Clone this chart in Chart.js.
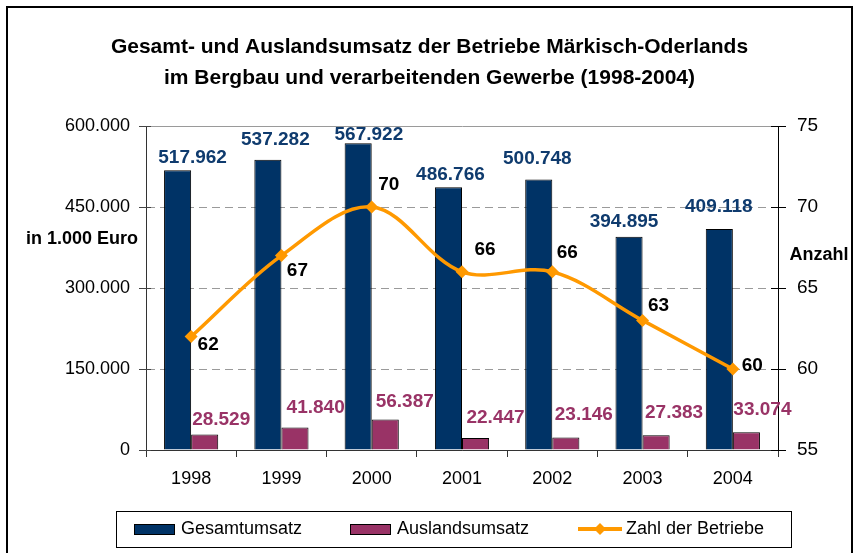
<!DOCTYPE html>
<html><head><meta charset="utf-8">
<script src="https://cdn.jsdelivr.net/npm/chart.js@4.4.0/dist/chart.umd.min.js"></script>
<style>
html,body{margin:0;padding:0;background:#fff;}
canvas{display:block;}
</style></head><body>
<canvas id="c" width="859" height="553"></canvas>
<script>
// ---- data ----
const years = ['1998','1999','2000','2001','2002','2003','2004'];
const gesamtumsatz = [517962, 537282, 567922, 486766, 500748, 394895, 409118];
const auslandsumsatz = [28529, 41840, 56387, 22447, 23146, 27383, 33074];
const zahlBetriebe = [62, 67, 70, 66, 66, 63, 60];
const leftTickValues = [0, 150000, 300000, 450000, 600000];
const rightTickValues = [55, 60, 65, 70, 75];
const titleLines = ['Gesamt- und Auslandsumsatz der Betriebe Märkisch-Oderlands', 'im Bergbau und verarbeitenden Gewerbe (1998-2004)'];
const seriesNames = ['Gesamtumsatz', 'Auslandsumsatz', 'Zahl der Betriebe'];
const leftAxisTitle = 'in 1.000 Euro';
const rightAxisTitle = 'Anzahl';

// ---- style ----
const FONT = "'Liberation Sans', Arial, sans-serif";
const NAVY = '#003366', MAROON = '#993366', ORANGE = '#FF9900';
const de = n => String(n).replace(/\B(?=(\d{3})+(?!\d))/g, '.');

// label offsets (px) relative to the bar top / point
const labelOffsets = [
  [[15,-12.5],[7.5,-20],[10.7,-9],[2,-12.6],[-1.4,-21],[-5,-15],[-0.5,-22]],
  [[16.5,-15],[20.7,-20],[19.5,-17.5],[20,-20],[18,-22.5],[18,-22.5],[16,-22.6]],
  [[17,8],[16,15],[17,-22],[23,-22],[15,-19],[16,-15],[19.5,-3]]
];
const labelColors = ['#0f3b6e', MAROON, '#000'];

Chart.defaults.font.family = FONT;
Chart.defaults.color = '#000';

const labelPlugin = {
  id: 'valueLabels',
  afterDatasetsDraw(chart) {
    const ctx = chart.ctx;
    ctx.save();
    ctx.font = "bold 19px " + FONT;
    ctx.textAlign = 'center';
    ctx.textBaseline = 'middle';
    chart.data.datasets.forEach((ds, di) => {
      const meta = chart.getDatasetMeta(di);
      meta.data.forEach((el, i) => {
        const off = labelOffsets[di][i];
        ctx.fillStyle = labelColors[di];
        ctx.fillText(de(ds.data[i]), el.x + off[0], el.y + off[1]);
      });
    });
    ctx.restore();
  }
};

const decorPlugin = {
  id: 'decor',
  afterDraw(chart) {
    const ctx = chart.ctx;
    const a = chart.chartArea;
    ctx.save();
    // inner halves of the value-axis tick marks
    ctx.lineWidth = 1;
    ctx.strokeStyle = '#444';
    const ys = chart.scales.y, yr = chart.scales.y1;
    ys.ticks.forEach(t => {
      const p = Math.round(ys.getPixelForValue(t.value)) + 0.5;
      ctx.beginPath(); ctx.moveTo(a.left, p); ctx.lineTo(a.left + 5, p); ctx.stroke();
    });
    ctx.strokeStyle = '#000';
    yr.ticks.forEach(t => {
      const p = Math.round(yr.getPixelForValue(t.value)) + 0.5;
      ctx.beginPath(); ctx.moveTo(a.right - 7, p); ctx.lineTo(a.right, p); ctx.stroke();
    });
    // outer frame
    ctx.strokeStyle = '#000';
    ctx.lineWidth = 2;
    ctx.strokeRect(7, 7, 845, 570);
    // axis titles
    ctx.font = "bold 18px " + FONT;
    ctx.fillStyle = '#000';
    ctx.textBaseline = 'middle';
    ctx.textAlign = 'center';
    ctx.fillText(leftAxisTitle, a.left - 64, a.top + 113);
    ctx.fillText(rightAxisTitle, a.right + 41, a.top + 129);
    // legend
    const lx = 116, ly = 511, lw = 675, lh = 36, cy = ly + lh / 2;
    ctx.lineWidth = 1;
    ctx.strokeStyle = '#000';
    ctx.strokeRect(lx + 0.5, ly + 0.5, lw, lh);
    ctx.font = "18px " + FONT;
    ctx.textAlign = 'left';
    const ds = chart.data.datasets;
    [[134, 0], [350, 1]].forEach(([x, di]) => {
      ctx.fillStyle = ds[di].backgroundColor;
      ctx.fillRect(x, cy - 5, 40, 10);
      ctx.strokeStyle = '#000';
      ctx.strokeRect(x + 0.5, cy - 5 + 0.5, 40, 10);
      ctx.fillStyle = '#000';
      ctx.fillText(seriesNames[di], x + 47, cy);
    });
    ctx.strokeStyle = ORANGE;
    ctx.lineWidth = 4;
    ctx.beginPath(); ctx.moveTo(578, cy); ctx.lineTo(622, cy); ctx.stroke();
    ctx.fillStyle = ORANGE;
    ctx.beginPath();
    ctx.moveTo(600, cy - 6); ctx.lineTo(606, cy); ctx.lineTo(600, cy + 6); ctx.lineTo(594, cy);
    ctx.closePath(); ctx.fill();
    ctx.fillStyle = '#000';
    ctx.fillText(seriesNames[2], 626, cy);
    ctx.restore();
  }
};

new Chart(document.getElementById('c'), {
  data: {
    labels: years,
    datasets: [
      { type: 'bar', label: seriesNames[0], data: gesamtumsatz, backgroundColor: NAVY,
        borderColor: '#000', borderWidth: 1, yAxisID: 'y', order: 1,
        categoryPercentage: 0.6, barPercentage: 1.0 },
      { type: 'bar', label: seriesNames[1], data: auslandsumsatz, backgroundColor: MAROON,
        borderColor: '#000', borderWidth: 1, yAxisID: 'y', order: 1,
        categoryPercentage: 0.6, barPercentage: 1.0 },
      { type: 'line', label: seriesNames[2], data: zahlBetriebe, borderColor: ORANGE,
        backgroundColor: ORANGE, borderWidth: 3.5, tension: 0.35, yAxisID: 'y1', order: 0,
        pointStyle: 'rectRot', pointRadius: 6.5, pointBackgroundColor: ORANGE,
        pointBorderColor: ORANGE, pointBorderWidth: 0 }
    ]
  },
  options: {
    responsive: false,
    animation: false,
    devicePixelRatio: 1,
    layout: { padding: { left: 0, right: 0, top: 0, bottom: 0 } },
    plugins: {
      legend: { display: false },
      tooltip: { enabled: false },
      title: {
        display: true,
        text: titleLines,
        color: '#000',
        font: { size: 21, weight: 'bold', family: FONT, lineHeight: 1.5 },
        padding: { top: 31, bottom: 32 }
      }
    },
    scales: {
      x: {
        afterFit: s => { s.height = 103; },
        grid: { offset: true, drawOnChartArea: false, tickLength: 7, tickColor: '#333', color: '#333' },
        border: { color: '#333', width: 1 },
        ticks: { font: { size: 18 }, color: '#000', padding: 11 }
      },
      y: {
        position: 'left',
        min: 0, max: 600000,
        afterFit: s => { s.width = 146; },
        afterBuildTicks: s => { s.ticks = leftTickValues.map(v => ({ value: v })); },
        grid: { color: '#9a9a9a', lineWidth: 1, tickLength: 7, tickColor: '#444', tickBorderDash: [] },
        border: { color: '#333', width: 1,
          dash: c => (c.type === 'tick' && c.tick && c.tick.value !== 600000) ? [8, 5] : [] },
        ticks: { font: { size: 18 }, color: '#000', padding: 9, callback: v => de(v) }
      },
      y1: {
        position: 'right',
        min: 55, max: 75,
        afterFit: s => { s.width = 81; },
        afterBuildTicks: s => { s.ticks = rightTickValues.map(v => ({ value: v })); },
        grid: { drawOnChartArea: false, tickLength: 8, tickColor: '#000' },
        border: { color: '#000', width: 1 },
        ticks: { font: { size: 19 }, color: '#000', padding: 11 }
      }
    }
  },
  plugins: [labelPlugin, decorPlugin]
});
</script>
</body></html>
